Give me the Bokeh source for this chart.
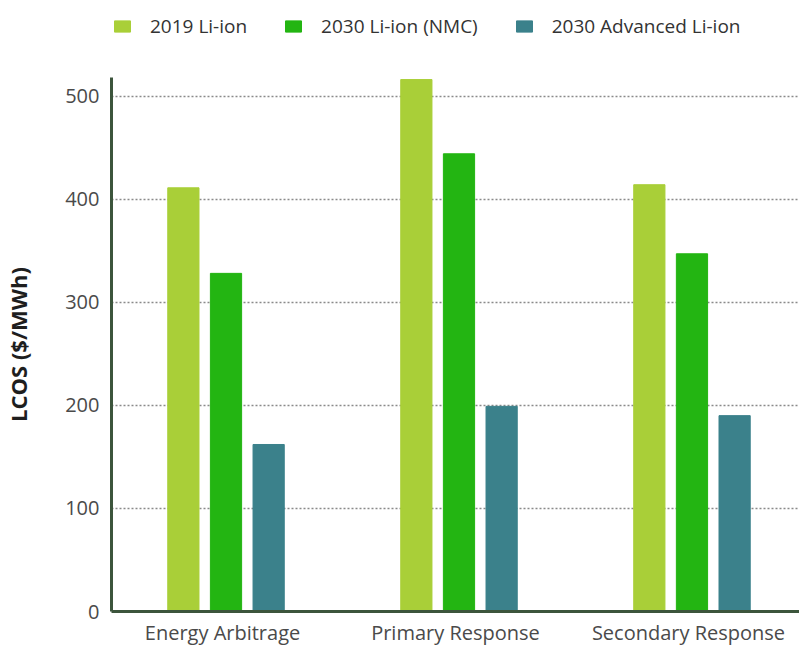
from bokeh.plotting import figure
from bokeh.layouts import column
from bokeh.models import ColumnDataSource, FactorRange, Legend, LegendItem, Range1d, FixedTicker
from bokeh.transform import dodge
from bokeh.embed import file_html
from bokeh.resources import INLINE

categories = ["Energy Arbitrage", "Primary Response", "Secondary Response"]
series = ["2019 Li-ion", "2030 Li-ion (NMC)", "2030 Advanced Li-ion"]
li_ion_2019 = [411, 516, 414]
li_ion_nmc_2030 = [328, 444, 347]
adv_li_ion_2030 = [162, 199, 190]
y_ticks = [0, 100, 200, 300, 400, 500]
colors = ["#a9cf38", "#23b512", "#3b818b"]

source = ColumnDataSource(dict(cat=categories, s2019=li_ion_2019,
                               snmc=li_ion_nmc_2030, sadv=adv_li_ion_2030))

FONT = "Open Sans"
x_range = FactorRange(*categories, range_padding=-0.0235, range_padding_units="absolute")
offsets = [-0.168, 0.015, 0.198]
fields = ["s2019", "snmc", "sadv"]

# main chart
p = figure(x_range=x_range, y_range=Range1d(0, 518),
           width=799, height=571, output_backend="svg", toolbar_location=None,
           min_border_left=111, min_border_right=0, min_border_top=0, min_border_bottom=35)

for off, fld, col in zip(offsets, fields, colors):
    p.vbar(x=dodge("cat", off, range=x_range), top=fld, width=0.134,
           source=source, fill_color=col, line_color=col)

p.outline_line_color = None
p.xgrid.grid_line_color = None
p.ygrid.grid_line_color = "#8a8a8a"
p.ygrid.grid_line_dash = "2 2"
p.ygrid.grid_line_width = 1.5

p.yaxis.ticker = FixedTicker(ticks=y_ticks)
for ax in (p.xaxis, p.yaxis):
    ax.axis_line_color = "#3c553c"
    ax.axis_line_width = 3
    ax.major_tick_line_color = None
    ax.minor_tick_line_color = None
    ax.major_tick_out = 0
    ax.major_tick_in = 0
    ax.major_label_text_font = FONT
    ax.major_label_text_font_size = "20px"
    ax.major_label_text_color = "#4a4a4a"

p.xaxis.major_label_standoff = 7
p.yaxis.major_label_standoff = 12
p.yaxis.axis_label = "LCOS ($/MWh)"
p.yaxis.axis_label_text_font = FONT
p.yaxis.axis_label_text_font_style = "bold"
p.yaxis.axis_label_text_font_size = "22px"
p.yaxis.axis_label_text_color = "#1e1e1e"
p.yaxis.axis_label_standoff = 29

# legend strip above the chart (same series, viewed outside their value range)
lg = figure(width=799, height=77, x_range=x_range, y_range=Range1d(600, 601),
            output_backend="svg", toolbar_location=None,
            min_border_left=0, min_border_right=0, min_border_top=0, min_border_bottom=0)
lg.axis.visible = False
lg.grid.visible = False
lg.outline_line_color = None
proxies = [lg.vbar(x=dodge("cat", off, range=x_range), top=fld, width=0.134,
                   source=source, fill_color=col, line_color=col)
           for off, fld, col in zip(offsets, fields, colors)]

legend = Legend(items=[LegendItem(label=s, renderers=[r]) for s, r in zip(series, proxies)],
                orientation="horizontal", location=(1, 38),
                glyph_width=20, glyph_height=14, label_standoff=18, spacing=36,
                padding=0, margin=0, border_line_color=None, background_fill_alpha=0,
                label_text_font=FONT, label_text_font_size="19px", label_text_color="#333333")
lg.add_layout(legend, "center")

layout = column(lg, p, spacing=0)
open("out.html", "w").write(file_html(layout, INLINE))
